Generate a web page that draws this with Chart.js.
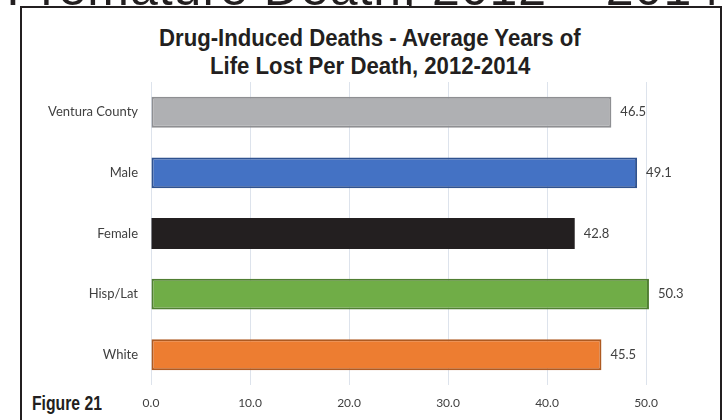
<!DOCTYPE html>
<html>
<head>
<meta charset="utf-8">
<script src="https://cdn.jsdelivr.net/npm/chart.js@4"></script>
<style>
  html, body { margin: 0; padding: 0; background: #fff; }
  #page { position: relative; width: 723px; height: 420px; overflow: hidden; }
  #heading {
    position: absolute; right: 2px; top: -37px; white-space: nowrap;
    font: 50px "Liberation Sans", Arial, sans-serif; line-height: 50px; color: #231f20;
    letter-spacing: 1px;
  }
  #frame {
    position: absolute; left: 20px; top: 6px; width: 702px; height: 440px;
    border: 2px solid #231f20; box-sizing: border-box; background: #fff;
  }
  .cond {
    position: absolute; white-space: nowrap; color: #231f20;
    font-family: "Liberation Sans", Arial, sans-serif; font-weight: bold;
    transform-origin: 0 0;
  }
  .ttl { font-size: 24px; line-height: 24px; }
  #figure { left: 32px; top: 393px; font-size: 20px; line-height: 20px; }
  #wrap { position: absolute; left: 0; top: 0; width: 723px; height: 420px; }
  canvas { display: block; }
</style>
</head>
<body>
<div id="page">
  <div id="heading">Premature Death, 2012 – 2014</div>
  <div id="frame"></div>
  <div class="cond ttl" id="title1" style="top:26px">Drug-Induced Deaths - Average Years of</div>
  <div class="cond ttl" id="title2" style="top:54px">Life Lost Per Death, 2012-2014</div>
  <div class="cond" id="figure">Figure 21</div>
  <div id="wrap"><canvas id="bar-chart-canvas" width="723" height="420"></canvas></div>
</div>
<script>
const categories = ['Ventura County', 'Male', 'Female', 'Hisp/Lat', 'White'];
const yearsLost = [46.5, 49.1, 42.8, 50.3, 45.5];
const barColors = ['#afb0b3', '#4472c4', '#231f20', '#70ad47', '#ed7d31'];
const edgeColors = ['#8e8f92', '#2f528f', '#231f20', '#507e32', '#ae5a21'];
const xTicks = [0, 10, 20, 30, 40, 50];

// squeeze the bold titles to look like a condensed face
const t1 = document.getElementById('title1');
const t2 = document.getElementById('title2');
const squeeze = 422 / t1.offsetWidth;
[t1, t2].forEach((el) => {
  const w = el.offsetWidth * squeeze;
  el.style.left = (370 - w / 2) + 'px';
  el.style.transform = `scaleX(${squeeze})`;
});
const fig = document.getElementById('figure');
fig.style.transform = `scaleX(${70 / fig.offsetWidth})`;

const valueLabels = {
  id: 'valueLabels',
  afterDatasetsDraw(chart) {
    const ctx = chart.ctx;
    const meta = chart.getDatasetMeta(0);
    ctx.save();
    ctx.font = '13px Lato, "Open Sans", sans-serif';
    ctx.fillStyle = '#404040';
    ctx.textAlign = 'left';
    ctx.textBaseline = 'middle';
    meta.data.forEach((bar, i) => {
      ctx.fillText(yearsLost[i].toFixed(1), bar.x + 9, bar.y);
    });
    ctx.restore();
  },
};

const canvas = document.getElementById('bar-chart-canvas');
const chart = new Chart(canvas, {
  type: 'bar',
  data: {
    labels: categories,
    datasets: [{
      data: yearsLost,
      backgroundColor: barColors,
      borderColor: edgeColors,
      borderWidth: [2, 2, 0, 2, 2],
      borderSkipped: false,
      barPercentage: 0.51,
      categoryPercentage: 1,
      clip: false,
    }],
  },
  options: {
    indexAxis: 'y',
    responsive: false,
    animation: false,
    devicePixelRatio: 1,
    layout: { padding: { top: 82, right: 77, bottom: 0, left: 0 } },
    plugins: {
      legend: { display: false },
      tooltip: { enabled: false },
      title: { display: false },
    },
    scales: {
      x: {
        min: 0,
        max: 50,
        afterBuildTicks: (scale) => { scale.ticks = xTicks.map((v) => ({ value: v })); },
        afterFit: (scale) => { scale.height = 35; },
        grid: { color: '#dde3ec', drawTicks: false },
        border: { display: false },
        ticks: {
          padding: 11,
          maxRotation: 0,
          color: '#404040',
          font: { family: 'Lato, "Open Sans", sans-serif', size: 12 },
          callback: (v) => Number(v).toFixed(1),
        },
      },
      y: {
        grid: { display: false, drawTicks: false },
        border: { display: false },
        afterFit: (scale) => { scale.width = 151; },
        ticks: {
          padding: 13,
          color: '#404040',
          font: { family: 'Lato, "Open Sans", sans-serif', size: 13 },
        },
      },
    },
  },
  plugins: [valueLabels],
});
</script>
</body>
</html>
